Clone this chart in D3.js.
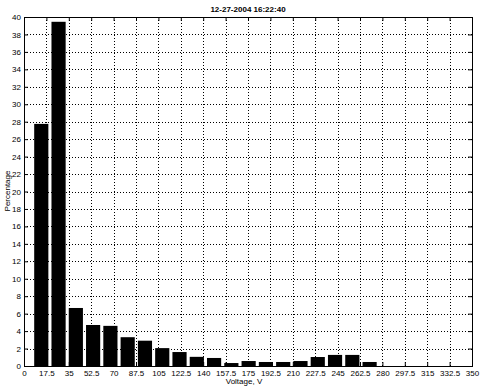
<!DOCTYPE html>
<html><head><meta charset="utf-8">
<script src="https://cdn.jsdelivr.net/npm/d3@7"></script>
<style>body{margin:0;background:#fff}svg{display:block}text{font-family:"Liberation Sans",Arial,sans-serif;fill:#000}</style>
</head><body>
<script>
const titleText = "12-27-2004 16:22:40";
const xLabel = "Voltage, V";
const yLabel = "Percentage";
const binCenters = [13.5, 27, 40.5, 54, 67.5, 81, 94.5, 108, 121.5, 135, 148.5, 162, 175.5, 189, 202.5, 216, 229.5, 243, 256.5, 270];
const percentages = [27.75, 39.45, 6.65, 4.7, 4.6, 3.3, 2.9, 2.05, 1.6, 1.05, 0.92, 0.34, 0.57, 0.46, 0.46, 0.57, 1.03, 1.27, 1.27, 0.46];
const xTicks = [0, 17.5, 35, 52.5, 70, 87.5, 105, 122.5, 140, 157.5, 175, 192.5, 210, 227.5, 245, 262.5, 280, 297.5, 315, 332.5, 350];
const xTickLabels = ["0","17.5","35","52.5","70","87.5","105","122.5","140","157.5","175","192.5","210","227.5","245","262.5","280","297.5","315","332.5","350"];
const yTicks = [0,2,4,6,8,10,12,14,16,18,20,22,24,26,28,30,32,34,36,38,40];

const W = 490, H = 386;
const m = {left: 24, right: 18, top: 17, bottom: 20};
const svg = d3.select("body").append("svg").attr("width", W).attr("height", H);
const x = d3.scaleLinear().domain([0, 350]).range([m.left, W - m.right]);
const y = d3.scaleLinear().domain([0, 40]).range([H - m.bottom, m.top]);
const binW = 13.5 * 0.82;

// grid
const g = svg.append("g");
g.selectAll(".gx").data(xTicks.slice(1, -1)).join("line")
  .attr("x1", d => Math.round(x(d)) + 0.5).attr("x2", d => Math.round(x(d)) + 0.5)
  .attr("y1", y(40)).attr("y2", y(0))
  .attr("stroke", "#000").attr("stroke-width", 1).attr("stroke-dasharray", "1,2");
g.selectAll(".gy").data(yTicks.slice(1, -1)).join("line")
  .attr("y1", d => Math.round(y(d)) + 0.5).attr("y2", d => Math.round(y(d)) + 0.5)
  .attr("x1", x(0)).attr("x2", x(350))
  .attr("stroke", "#000").attr("stroke-width", 1).attr("stroke-dasharray", "1,2");

// bars
svg.append("g").selectAll("rect").data(percentages).join("rect")
  .attr("x", (d, i) => x(binCenters[i] - binW / 2))
  .attr("width", (d, i) => x(binCenters[i] + binW / 2) - x(binCenters[i] - binW / 2))
  .attr("y", d => y(d))
  .attr("height", d => y(0) - y(d))
  .attr("fill", "#000");

// axes
const fmtX = (d, i) => xTickLabels[i];
const axB = d3.axisBottom(x).tickValues(xTicks).tickFormat(fmtX).tickSize(-4).tickPadding(4);
const axT = d3.axisTop(x).tickValues(xTicks).tickFormat("").tickSize(-4);
const axL = d3.axisLeft(y).tickValues(yTicks).tickSize(-4).tickPadding(3);
const axR = d3.axisRight(y).tickValues(yTicks).tickFormat("").tickSize(-4);
function style(sel) {
  sel.select(".domain").remove();
  sel.selectAll("line").attr("stroke", "#000");
  sel.selectAll("text").style("font-size", "8px").attr("fill", "#000");
}
svg.append("g").attr("transform", `translate(0,${y(0)})`).call(axB).call(style);
svg.append("g").attr("transform", `translate(0,${y(40)})`).call(axT).call(style);
svg.append("g").attr("transform", `translate(${x(0)},0)`).call(axL).call(style);
svg.append("g").attr("transform", `translate(${x(350)},0)`).call(axR).call(style);

svg.append("rect").attr("x", x(0) + 0.5).attr("y", y(40) + 0.5)
  .attr("width", x(350) - x(0)).attr("height", y(0) - y(40))
  .attr("fill", "none").attr("stroke", "#000").attr("stroke-width", 1);

svg.append("text").attr("x", 248).attr("y", 12).attr("text-anchor", "middle")
  .style("font-size", "8px").style("font-weight", "bold").text(titleText);
svg.append("text").attr("x", 244).attr("y", 384).attr("text-anchor", "middle")
  .style("font-size", "8px").text(xLabel);
svg.append("text").attr("transform", "translate(10,191) rotate(-90)").attr("text-anchor", "middle")
  .style("font-size", "8px").text(yLabel);
</script>
</body></html>
